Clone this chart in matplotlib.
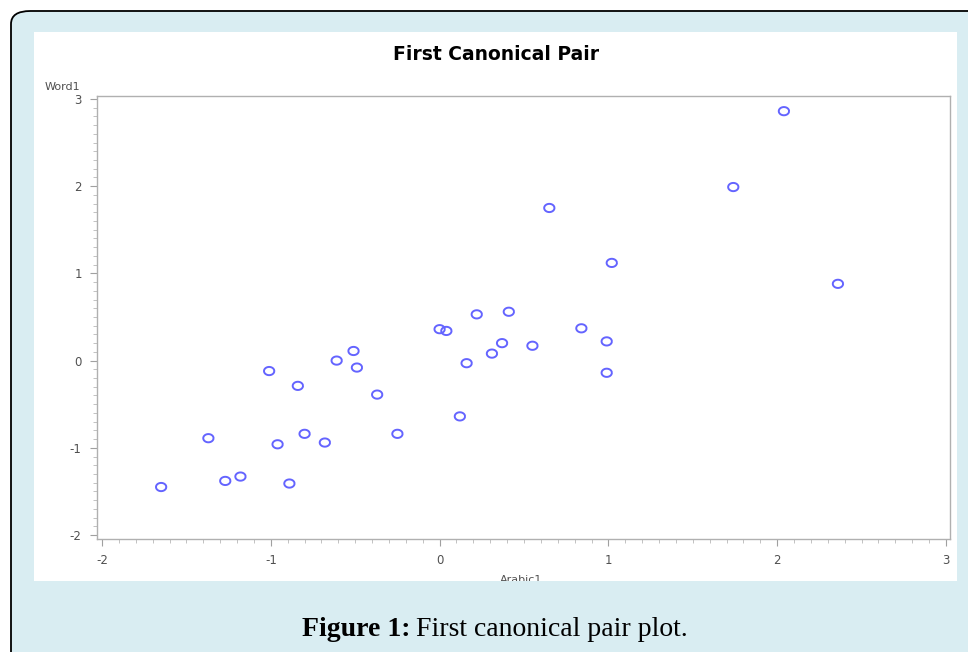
import matplotlib
matplotlib.use("Agg")
import matplotlib.pyplot as plt
from matplotlib.patches import Rectangle, FancyBboxPatch
from matplotlib.path import Path
from matplotlib.ticker import MultipleLocator
import numpy as np

# canonical variable scores
arabic1 = [2.04, 1.74, 0.65, 1.02, 2.36, 0.00, 0.04, 0.22, 0.41, 0.84,
           0.99, 0.37, 0.55, 0.31, -0.51, -0.61, -0.49, 0.16, -1.01, 0.99,
           -0.84, -0.37, 0.12, -1.37, -0.80, -0.96, -0.68, -0.25, -1.18,
           -1.27, -0.89, -1.65]
word1 = [2.86, 1.99, 1.75, 1.12, 0.88, 0.36, 0.34, 0.53, 0.56, 0.37,
         0.22, 0.20, 0.17, 0.08, 0.11, 0.00, -0.08, -0.03, -0.12, -0.14,
         -0.29, -0.39, -0.64, -0.89, -0.84, -0.96, -0.94, -0.84, -1.33,
         -1.38, -1.41, -1.45]

x_ticks = [-2, -1, 0, 1, 2, 3]
y_ticks = [-2, -1, 0, 1, 2, 3]

W, H = 968, 652
bg = "#d9edf2"

plt.rcParams["axes.unicode_minus"] = False

fig = plt.figure(figsize=(W / 100, H / 100), dpi=100)
fig.patch.set_facecolor("white")


def px(x, y):
    return x / W, 1 - y / H


# rounded frame, cropped by the image edges
frame = FancyBboxPatch(px(11, 1000), (1100 - 11) / W, (1000 - 11) / H,
                       boxstyle="round,pad=0,rounding_size=0.02",
                       transform=fig.transFigure, facecolor=bg,
                       edgecolor="black", linewidth=1.3, zorder=-3)
fig.patches.append(frame)
panel = Rectangle(px(34, 580.5), (957 - 34) / W, (580.5 - 32) / H,
                  transform=fig.transFigure, facecolor="white",
                  edgecolor="none", zorder=-2)
fig.patches.append(panel)

ax = fig.add_axes([97 / W, 1 - 539 / H, (950 - 97) / W, (539 - 96) / H])
ax.set_facecolor("white")

# slightly flattened open circle
t = np.linspace(0, 2 * np.pi, 40)
ell = Path(np.column_stack([np.cos(t), 0.8 * np.sin(t)]))
ax.scatter(arabic1, word1, marker=ell, s=55, facecolors="none",
           edgecolors="#6464ff", linewidths=1.4)

ax.set_xlim(-2.03, 3.024)
ax.set_ylim(-2.046, 3.034)
ax.set_xticks(x_ticks)
ax.set_yticks(y_ticks)
ax.xaxis.set_minor_locator(MultipleLocator(0.1))
ax.yaxis.set_minor_locator(MultipleLocator(0.1))
for s in ax.spines.values():
    s.set_color("#b0b0b0")
    s.set_linewidth(1)
ax.tick_params(which="major", length=5, color="#a0a0a0", labelsize=8.5,
               labelcolor="#505050", pad=6)
ax.tick_params(which="minor", length=3, color="#b8b8b8")

fig.text(496 / W, 1 - 54 / H, "First Canonical Pair", ha="center",
         va="center", fontsize=13.5, fontweight="bold",
         family="DejaVu Sans")
fig.text(45 / W, 1 - 87 / H, "Word1", ha="left", va="center", fontsize=8,
         color="#505050")
xl = fig.text(521 / W, 1 - 580 / H, "Arabic1", ha="center", va="center",
              fontsize=8, color="#505050")
xl.set_clip_path(panel)

# caption: bold lead + regular rest
cap_y = 1 - 629 / H
b = fig.text(302 / W, cap_y, "Figure 1:", ha="left", va="center",
             fontsize=20, fontweight="bold", family="Liberation Serif")
r = fig.canvas.get_renderer()
bb = b.get_window_extent(renderer=r)
fig.text((bb.x1 + 6) / W, cap_y, "First canonical pair plot.", ha="left",
         va="center", fontsize=20, family="Liberation Serif")

fig.savefig("out.png", dpi=100)
